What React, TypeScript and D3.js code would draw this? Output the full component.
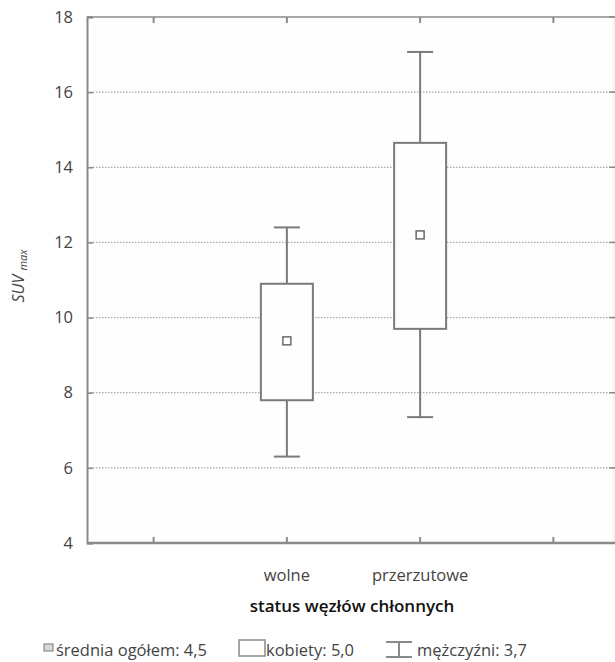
import React, { useEffect, useRef } from 'react';
import * as d3 from 'd3';

const categories = ['', 'wolne', 'przerzutowe', ''];
const boxCats = ['wolne', 'przerzutowe'];
const q1 = [7.8, 9.7];
const q3 = [10.9, 14.65];
const whiskerLow = [6.3, 7.35];
const whiskerHigh = [12.4, 17.07];
const means = [9.38, 12.2];
const yTicks = [4, 6, 8, 10, 12, 14, 16, 18];
const legendLabels = ['średnia ogółem: 4,5', 'kobiety: 5,0', 'mężczyźni: 3,7'];

const W = 615;
const H = 662;
const font = '"Open Sans", "Noto Sans", sans-serif';
const txt = '#444';

function App() {
  const svgRef = useRef<SVGSVGElement>(null);

  useEffect(() => {
    const svg = d3.select(svgRef.current);
    svg.selectAll('*').remove();

    const x0 = 87;
    const x1 = 620;
    const y0 = 17;
    const yb = 543;

    const x = d3.scaleBand().domain(categories.map((c, i) => i + c)).range([x0, x1]);
    const xc = (i: number) => (x(i + categories[i]) as number) + x.bandwidth() / 2;
    const y = d3.scaleLinear().domain([4, 18]).range([yb, y0]);

    // plot background
    svg.append('rect')
      .attr('x', x0).attr('y', y0)
      .attr('width', x1 - x0).attr('height', yb - y0)
      .attr('fill', '#fefefe');

    // dotted grid
    svg.append('g')
      .selectAll('line')
      .data(yTicks.filter(t => t > 4 && t < 18))
      .enter()
      .append('line')
      .attr('x1', x0).attr('x2', x1)
      .attr('y1', d => y(d)).attr('y2', d => y(d))
      .attr('stroke', '#a8a8a8')
      .attr('stroke-width', 1.3)
      .attr('stroke-dasharray', '1.5,1.5');

    // frame: top and right
    svg.append('line').attr('x1', x0).attr('x2', x1).attr('y1', y0).attr('y2', y0)
      .attr('stroke', '#8a8a8a').attr('stroke-width', 1.5);
    svg.append('line').attr('x1', 614).attr('x2', 614).attr('y1', y0).attr('y2', yb)
      .attr('stroke', '#e8e8e8').attr('stroke-width', 1);

    // left axis
    const yAxis = d3.axisLeft(y).tickValues(yTicks).tickSize(-6).tickPadding(14);
    const ya = svg.append('g').attr('transform', `translate(${x0},0)`).call(yAxis);
    ya.select('.domain').attr('stroke', '#8a8a8a').attr('stroke-width', 2);
    ya.selectAll('.tick line').attr('stroke', '#8a8a8a').attr('stroke-width', 1.5);
    ya.selectAll('.tick text')
      .attr('font-family', font).attr('font-size', 16.5).attr('fill', txt);

    // right inward ticks
    svg.append('g')
      .selectAll('line')
      .data(yTicks)
      .enter()
      .append('line')
      .attr('x1', 609).attr('x2', 615)
      .attr('y1', d => y(d)).attr('y2', d => y(d))
      .attr('stroke', '#8a8a8a').attr('stroke-width', 1.5);

    // bottom axis
    svg.append('line').attr('x1', x0).attr('x2', x1).attr('y1', yb).attr('y2', yb)
      .attr('stroke', '#8a8a8a').attr('stroke-width', 2.5);
    categories.forEach((c, i) => {
      svg.append('line').attr('x1', xc(i)).attr('x2', xc(i)).attr('y1', yb).attr('y2', yb - 6)
        .attr('stroke', '#8a8a8a').attr('stroke-width', 2);
      svg.append('line').attr('x1', xc(i)).attr('x2', xc(i)).attr('y1', y0).attr('y2', y0 + 6)
        .attr('stroke', '#8a8a8a').attr('stroke-width', 2);
      if (c) {
        svg.append('text')
          .attr('x', xc(i)).attr('y', 581)
          .attr('text-anchor', 'middle')
          .attr('font-family', font).attr('font-size', 16.5).attr('fill', txt)
          .text(c);
      }
    });

    // boxes
    const boxW = 52;
    const capW = 26;
    boxCats.forEach((c, k) => {
      const cx = xc(categories.indexOf(c));
      const g = svg.append('g').attr('stroke', '#7a7a7a').attr('fill', 'none');
      g.append('line').attr('x1', cx).attr('x2', cx)
        .attr('y1', y(whiskerHigh[k])).attr('y2', y(q3[k])).attr('stroke-width', 2);
      g.append('line').attr('x1', cx).attr('x2', cx)
        .attr('y1', y(q1[k])).attr('y2', y(whiskerLow[k])).attr('stroke-width', 2);
      g.append('line').attr('x1', cx - capW / 2).attr('x2', cx + capW / 2)
        .attr('y1', y(whiskerHigh[k])).attr('y2', y(whiskerHigh[k])).attr('stroke-width', 2);
      g.append('line').attr('x1', cx - capW / 2).attr('x2', cx + capW / 2)
        .attr('y1', y(whiskerLow[k])).attr('y2', y(whiskerLow[k])).attr('stroke-width', 2);
      g.append('rect')
        .attr('x', cx - boxW / 2).attr('y', y(q3[k]))
        .attr('width', boxW).attr('height', y(q1[k]) - y(q3[k]))
        .attr('fill', '#fefefe').attr('stroke-width', 2);
      g.append('rect')
        .attr('x', cx - 4).attr('y', y(means[k]) - 4)
        .attr('width', 8).attr('height', 8)
        .attr('fill', '#fff').attr('stroke', '#6a6a6a').attr('stroke-width', 1.5);
    });

    // y title
    const yt = svg.append('text')
      .attr('transform', 'translate(24,276) rotate(-90)')
      .attr('text-anchor', 'middle')
      .attr('font-family', font).attr('font-size', 16).attr('font-style', 'italic')
      .attr('fill', txt);
    yt.append('tspan').text('SUV ');
    yt.append('tspan').attr('font-size', 11).attr('dy', 3).text('max');

    // x title
    svg.append('text')
      .attr('x', 352).attr('y', 612)
      .attr('text-anchor', 'middle')
      .attr('font-family', font).attr('font-size', 17).attr('font-weight', 600)
      .attr('fill', '#111')
      .text('status węzłów chłonnych');

    // legend
    const ly = 656;
    const lg = svg.append('g').attr('font-family', font).attr('font-size', 16.5).attr('fill', txt);
    lg.append('rect').attr('x', 44).attr('y', ly - 12).attr('width', 9).attr('height', 7)
      .attr('fill', '#d8d8d8').attr('stroke', '#8a8a8a').attr('stroke-width', 1.2);
    lg.append('text').attr('x', 56).attr('y', ly).text(legendLabels[0]);
    lg.append('rect').attr('x', 239).attr('y', ly - 16).attr('width', 26).attr('height', 16)
      .attr('fill', '#fff').attr('stroke', '#8a8a8a').attr('stroke-width', 1.5);
    lg.append('text').attr('x', 266).attr('y', ly).text(legendLabels[1]);
    const wg = lg.append('g').attr('stroke', '#8a8a8a').attr('stroke-width', 2);
    wg.append('line').attr('x1', 386).attr('x2', 412).attr('y1', ly - 14).attr('y2', ly - 14);
    wg.append('line').attr('x1', 386).attr('x2', 412).attr('y1', ly + 1).attr('y2', ly + 1);
    wg.append('line').attr('x1', 399).attr('x2', 399).attr('y1', ly - 14).attr('y2', ly + 1);
    lg.append('text').attr('x', 417).attr('y', ly).text(legendLabels[2]);
  }, []);

  return (
    <svg
      ref={svgRef}
      width={W}
      height={H}
      style={{ position: 'absolute', left: 0, top: 0, background: '#fff' }}
    />
  );
}

export default App;
